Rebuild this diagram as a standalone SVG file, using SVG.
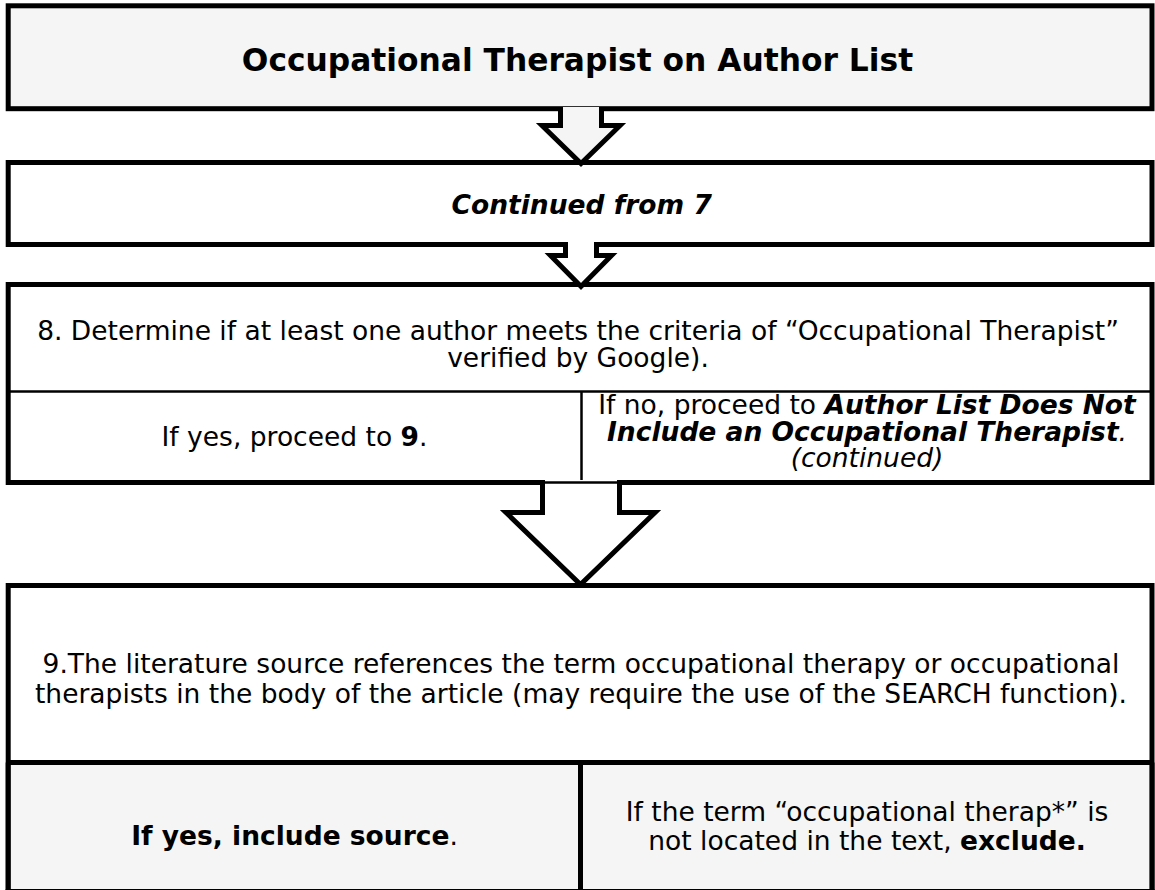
<svg xmlns="http://www.w3.org/2000/svg" width="1155" height="890" viewBox="0 0 1155 890">
<style>
.box{stroke:#000;stroke-width:5;stroke-linejoin:miter}
.gray{fill:#f4f5f4}
.white{fill:#fff}
.thin{stroke:#000;stroke-width:2.5;fill:none}
.thick{stroke:#000;stroke-width:5;fill:none}
.arrow{stroke:#000;stroke-width:5;stroke-linejoin:miter;stroke-miterlimit:10}
text{font-family:"DejaVu Sans","Verdana",sans-serif;fill:#000;text-anchor:middle}
.t{font-size:26.5px}
.title{font-size:31.3px;font-weight:bold}
.b{font-weight:bold}
.bi{font-weight:bold;font-style:italic}
.i{font-style:italic}
</style>
<rect width="1155" height="890" fill="#fff"/>
<g id="node-title">
<rect class="box gray" x="8.2" y="5.8" width="1143.8" height="102.9"/>
<text class="title" x="577.5" y="71">Occupational Therapist on Author List</text>
</g>
<g id="node-continued">
<rect class="box white" x="8.2" y="162.5" width="1143.8" height="82"/>
<text class="t bi" x="581.7" y="213.5">Continued from 7</text>
</g>
<g id="node-8">
<rect class="box white" x="8.2" y="284.5" width="1143.8" height="198"/>
<line class="thin" x1="8.2" y1="391.5" x2="1152" y2="391.5"/>
<line class="thin" x1="581.5" y1="391.5" x2="581.5" y2="482.5"/>
<text class="t" x="578" y="340">8. Determine if at least one author meets the criteria of “Occupational Therapist”</text>
<text class="t" x="578" y="367">verified by Google).</text>
<text class="t" x="294.5" y="446">If yes, proceed to <tspan class="b">9</tspan>.</text>
<text class="t" x="867" y="414">If no, proceed to <tspan class="bi">Author List Does Not</tspan></text>
<text class="t" x="867" y="441"><tspan class="bi">Include an Occupational Therapist</tspan><tspan class="i">.</tspan></text>
<text class="t i" x="867" y="467">(continued)</text>
</g>
<g id="node-9">
<rect class="box white" x="8.2" y="585.5" width="1143.8" height="306"/>
<rect class="gray" x="10.7" y="765" width="1138.8" height="130"/>
<line class="thick" x1="8.2" y1="762.5" x2="1152" y2="762.5"/>
<line class="thick" x1="580.5" y1="762.5" x2="580.5" y2="895"/>
<line class="thick" x1="8.2" y1="762.5" x2="8.2" y2="895"/>
<line class="thick" x1="1152" y1="762.5" x2="1152" y2="895"/>
<line class="thick" x1="5.7" y1="891.5" x2="1154.5" y2="891.5"/>
<text class="t" x="581" y="673">9.The literature source references the term occupational therapy or occupational</text>
<text class="t" x="581" y="703">therapists in the body of the article (may require the use of the SEARCH function).</text>
<text class="t" x="294.5" y="845"><tspan class="b">If yes, include source</tspan>.</text>
<text class="t" x="867" y="820.7">If the term “occupational therap*” is</text>
<text class="t" x="867" y="850">not located in the text, <tspan class="b">exclude.</tspan></text>
</g>
<g id="connectors">
<path class="arrow gray" d="M560.5,107 V125.5 H542 L581,163.5 L620,125.5 H601.5 V107"/>
<path class="arrow white" d="M565.5,242 V255.5 H550.5 L581,286.5 L611.5,255.5 H596.5 V242"/>
<path class="arrow white" d="M542.5,480 V512.5 H506 L580.5,584.5 L655,512.5 H619.5 V480"/>
<line class="thin" x1="542.5" y1="482.5" x2="619.5" y2="482.5"/>
</g>
</svg>
